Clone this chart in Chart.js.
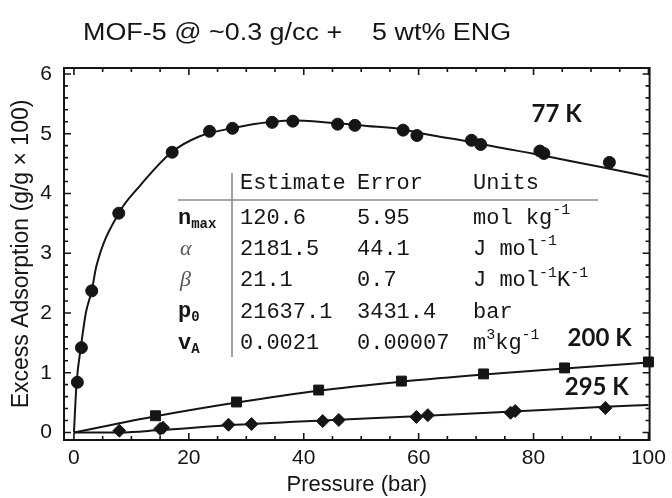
<!DOCTYPE html>
<html>
<head>
<meta charset="utf-8">
<script src="https://cdn.jsdelivr.net/npm/chart.js@4.4.1/dist/chart.umd.min.js"></script>
<style>
  html, body { margin: 0; padding: 0; background: #fff; }
  #wrap { width: 672px; height: 498px; }
</style>
</head>
<body>
<div id="wrap"><canvas id="chart" width="672" height="498"></canvas></div>
<script>
'use strict';

// ── Ejes ─────
const xTicks = [0, 20, 40, 60, 80, 100];
const yTicks = [0, 1, 2, 3, 4, 5, 6];

const p77 = [0.6, 1.3, 3.1, 7.8, 17.1, 23.6, 27.6, 34.5, 38.1, 45.9, 48.9, 57.3, 59.7, 69.2, 70.8, 81.1, 81.8, 93.2];
const n77 = [0.84, 1.42, 2.37, 3.67, 4.69, 5.04, 5.09, 5.19, 5.21, 5.16, 5.14, 5.06, 4.97, 4.89, 4.82, 4.71, 4.67, 4.52];
const fitP77 = [0, 0.47, 1.2, 2.07, 3.1, 3.9, 7.8, 11.4, 17.0, 21.7, 27.4, 34.5, 39, 45.2, 51, 56.7, 62.5, 68.2, 74, 79.8, 85.5, 91.3, 100];
const fitN77 = [0, 0.84, 1.42, 2.0, 2.37, 2.78, 3.67, 4.12, 4.69, 4.95, 5.09, 5.2, 5.22, 5.18, 5.13, 5.08, 4.97, 4.88, 4.77, 4.67, 4.56, 4.45, 4.28];

// ── 200 K ─────
const p200 = [14.2, 28.3, 42.6, 57.0, 71.3, 85.4, 100];
const n200 = [0.28, 0.51, 0.71, 0.86, 0.98, 1.08, 1.18];
const fitP200 = [0, 14.2, 28.3, 42.6, 57, 71.3, 85.4, 100];
const fitN200 = [0, 0.27, 0.5, 0.7, 0.85, 0.97, 1.07, 1.17];

// ── 295 K ─────
const p295 = [7.9, 15.0, 15.5, 26.9, 30.9, 43.3, 46.1, 59.6, 61.6, 76.0, 76.8, 92.5];
const n295 = [0.03, 0.06, 0.08, 0.13, 0.14, 0.19, 0.21, 0.26, 0.29, 0.33, 0.36, 0.41];
const fitP295 = [0, 8.1, 15, 26.9, 43.3, 59.6, 76.3, 92.4, 100];
const fitN295 = [0, 0.0, 0.04, 0.12, 0.2, 0.27, 0.35, 0.43, 0.46];

// ── Tabla de parámetros ─────
const tableHeader = ['Estimate', 'Error', 'Units'];
const tableParams = ['n_max', 'α', 'β', 'p_0', 'v_A'];
const tableEstimate = ['120.6', '2181.5', '21.1', '21637.1', '0.0021'];
const tableError = ['5.95', '44.1', '0.7', '3431.4', '0.00007'];
const tableUnits = ['mol kg{-1}', 'J mol{-1}', 'J mol{-1}K{-1}', 'bar', 'm{3}kg{-1}'];

const INK = '#151515';
const SANS = "'Liberation Sans', Arial, sans-serif";
const MONO = "'Liberation Mono', 'Courier New', monospace";

const pts = (xs, ys) => xs.map((x, i) => ({ x, y: ys[i] }));

// texto con sub/superíndices: '_' -> subíndice, {..} -> superíndice
function drawRich(ctx, str, x, y, big, small) {
  const parts = str.match(/\{[^}]*\}|_[^{]*|[^{_]+/g) || [];
  parts.forEach(s => {
    let txt = s, dy = 0;
    if (s[0] === '{') { txt = s.slice(1, -1); ctx.font = small; dy = -8; }
    else if (s[0] === '_') { txt = s.slice(1); ctx.font = small; dy = 6; }
    else ctx.font = big;
    ctx.fillText(txt, x, y + dy);
    x += ctx.measureText(txt).width;
  });
}

// Marco con marcas hacia dentro en los cuatro lados
const frameTicks = {
  id: 'frameTicks',
  beforeDatasetsDraw(chart) {
    const { ctx, chartArea: a, scales: { x, y } } = chart;
    ctx.save();
    ctx.strokeStyle = INK;
    ctx.lineWidth = 2;
    ctx.strokeRect(a.left, a.top, a.right - a.left, a.bottom - a.top);
    ctx.beginPath();
    for (let k = 0; k <= 20; k++) {
      const v = k * 5;
      const px = x.getPixelForValue(v);
      const len = k % 4 === 0 ? 7 : 4;
      ctx.moveTo(px, a.bottom); ctx.lineTo(px, a.bottom - len);
      ctx.moveTo(px, a.top); ctx.lineTo(px, a.top + len);
    }
    for (let k = 0; k <= 30; k++) {
      const v = k * 0.2;
      const py = y.getPixelForValue(v);
      if (py < a.top) continue;
      const len = k % 5 === 0 ? 7 : 4;
      ctx.moveTo(a.left, py); ctx.lineTo(a.left + len, py);
      ctx.moveTo(a.right, py); ctx.lineTo(a.right - len, py);
    }
    ctx.lineWidth = 1.6;
    ctx.stroke();
    ctx.restore();
  }
};

// Título, etiquetas de temperatura y tabla
const annotations = {
  id: 'annotations',
  afterDatasetsDraw(chart) {
    const { ctx, scales: { x, y } } = chart;
    ctx.save();
    ctx.fillStyle = INK;

    // título (ligeramente ensanchado como en el original)
    ctx.save();
    ctx.translate(83, 40);
    ctx.scale(1.17, 1);
    ctx.font = `23px ${SANS}`;
    ctx.textBaseline = 'alphabetic';
    ctx.fillText('MOF-5 @ ~0.3 g/cc +    5 wt% ENG', 0, 0);
    ctx.restore();

    // temperaturas
    ctx.font = "bold 24px Lato, 'Liberation Sans', sans-serif";
    ctx.textAlign = 'center';
    ctx.textBaseline = 'middle';
    ctx.fillText('77 K', x.getPixelForValue(84), y.getPixelForValue(5.33));
    ctx.fillText('200 K', x.getPixelForValue(91.5), y.getPixelForValue(1.58));
    ctx.fillText('295 K', x.getPixelForValue(91), y.getPixelForValue(0.76));

    // tabla
    ctx.textAlign = 'left';
    ctx.textBaseline = 'middle';
    ctx.strokeStyle = '#8a8a8a';
    ctx.lineWidth = 1.6;
    ctx.beginPath();
    ctx.moveTo(232, 173); ctx.lineTo(232, 357);
    ctx.moveTo(178, 200); ctx.lineTo(598, 200);
    ctx.stroke();

    const cols = [240, 357, 473];
    const big = `22px ${MONO}`;
    const small = `15px ${MONO}`;
    ctx.font = big;
    tableHeader.forEach((h, i) => ctx.fillText(h, cols[i], 183));

    tableParams.forEach((name, i) => {
      const ry = 218 + i * 31.3;
      if (name === 'α' || name === 'β') {
        ctx.fillStyle = '#555';
        ctx.font = `italic 22px 'Liberation Serif', serif`;
        ctx.fillText(name, 180, ry);
        ctx.fillStyle = INK;
      } else {
        drawRich(ctx, name, 178, ry, `bold 22px ${MONO}`, `bold 14px ${MONO}`);
      }
      ctx.font = big;
      ctx.fillText(tableEstimate[i], cols[0], ry);
      ctx.fillText(tableError[i], cols[1], ry);
      drawRich(ctx, tableUnits[i], cols[2], ry, big, small);
    });
    ctx.restore();
  }
};

new Chart(document.getElementById('chart'), {
  type: 'scatter',
  data: {
    datasets: [
      { label: '77 K', data: pts(p77, n77), pointStyle: 'circle', pointRadius: 6,
        backgroundColor: INK, borderColor: INK, clip: false },
      { label: '200 K', data: pts(p200, n200), pointStyle: 'rect', pointRadius: 7,
        backgroundColor: INK, borderColor: INK, clip: false },
      { label: '295 K', data: pts(p295, n295), pointStyle: 'rectRot', pointRadius: 6.5,
        backgroundColor: INK, borderColor: INK, clip: false },
      { label: 'fit 77 K', data: pts(fitP77, fitN77), showLine: true, pointRadius: 0,
        borderColor: INK, borderWidth: 2, cubicInterpolationMode: 'monotone', clip: false },
      { label: 'fit 200 K', data: pts(fitP200, fitN200), showLine: true, pointRadius: 0,
        borderColor: INK, borderWidth: 2, cubicInterpolationMode: 'monotone', clip: false },
      { label: 'fit 295 K', data: pts(fitP295, fitN295), showLine: true, pointRadius: 0,
        borderColor: INK, borderWidth: 2, cubicInterpolationMode: 'monotone', clip: false }
    ]
  },
  options: {
    responsive: false,
    animation: false,
    devicePixelRatio: 1,
    layout: { padding: { top: 68, right: 18, left: 0, bottom: 0 } },
    plugins: {
      legend: { display: false },
      tooltip: { enabled: false },
      title: { display: false }
    },
    scales: {
      x: {
        type: 'linear', min: -1.73, max: 100.2,
        grid: { display: false, drawTicks: false },
        border: { display: false },
        afterBuildTicks: s => { s.ticks = xTicks.map(v => ({ value: v })); },
        afterFit: s => { s.height = 58; },
        ticks: { font: { family: SANS, size: 21 }, color: INK, padding: 6, maxRotation: 0 },
        title: { display: true, text: 'Pressure (bar)', color: INK,
                 font: { family: SANS, size: 22 }, padding: { top: 0, bottom: 0 } }
      },
      y: {
        type: 'linear', min: -0.126, max: 6.1,
        grid: { display: false, drawTicks: false },
        border: { display: false },
        afterBuildTicks: s => { s.ticks = yTicks.map(v => ({ value: v })); },
        afterFit: s => { s.width = 64; },
        ticks: { font: { family: SANS, size: 21 }, color: INK, padding: 12 },
        title: { display: true, text: 'Excess Adsorption (g/g × 100)', color: INK,
                 font: { family: SANS, size: 23 }, padding: { top: 8, bottom: 0 } }
      }
    }
  },
  plugins: [frameTicks, annotations]
});
</script>
</body>
</html>
